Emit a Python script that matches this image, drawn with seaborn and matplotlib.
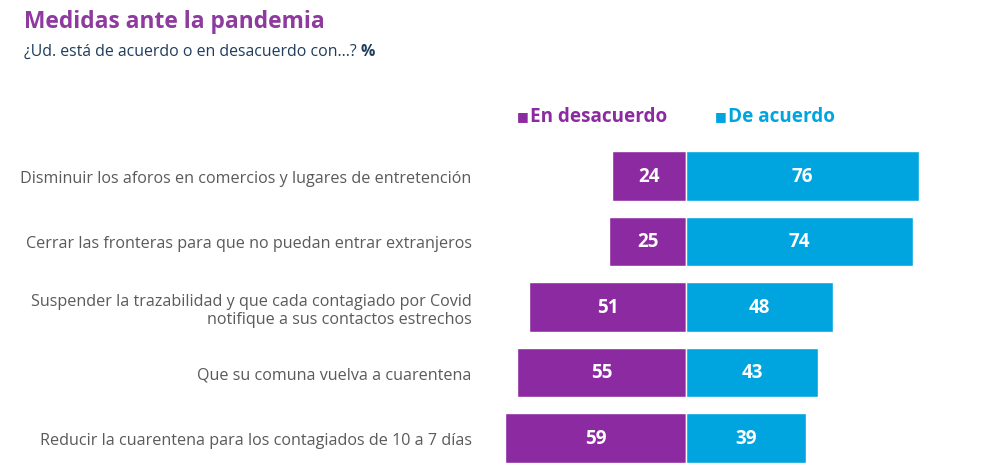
import matplotlib
matplotlib.use("Agg")
import matplotlib.pyplot as plt
import seaborn as sns
import pandas as pd

categories = [
    "Disminuir los aforos en comercios y lugares de entretención",
    "Cerrar las fronteras para que no puedan entrar extranjeros",
    "Suspender la trazabilidad y que cada contagiado por Covid\nnotifique a sus contactos estrechos",
    "Que su comuna vuelva a cuarentena",
    "Reducir la cuarentena para los contagiados de 10 a 7 días",
]
desacuerdo = [24, 25, 51, 55, 59]
acuerdo = [76, 74, 48, 43, 39]
series_names = ["En desacuerdo", "De acuerdo"]

PURPLE = "#8C2AA1"
BLUE = "#00A5E0"
TITLE_C = "#8E3A9E"
SUB_C = "#1E3D5C"
LABEL_C = "#5A5A5A"

sns.set_theme(style="white")
plt.rcParams["font.family"] = ["Open Sans", "DejaVu Sans"]

W, H = 983, 477
fig = plt.figure(figsize=(W / 100, H / 100), dpi=100)
ax_left_px, ax_right_px = 480, 983
center_px = 686
ppu = 3.07
ax_top_px, ax_bot_px = 144.25, 471.75
ax = fig.add_axes([ax_left_px / W, 1 - ax_bot_px / H,
                   (ax_right_px - ax_left_px) / W, (ax_bot_px - ax_top_px) / H])

df = pd.DataFrame({"cat": categories, "neg": [-v for v in desacuerdo], "pos": acuerdo})
sns.barplot(data=df, x="neg", y="cat", orient="h", color=PURPLE, width=0.75,
            saturation=1, ax=ax, edgecolor="white", linewidth=1)
sns.barplot(data=df, x="pos", y="cat", orient="h", color=BLUE, width=0.75,
            saturation=1, ax=ax, edgecolor="white", linewidth=1)

ax.set_xlim(-(center_px - ax_left_px) / ppu, (ax_right_px - center_px) / ppu)
ax.set_ylim(4.5, -0.5)
for s in ax.spines.values():
    s.set_visible(False)
ax.set_xticks([])
ax.set_xlabel("")
ax.set_ylabel("")
ax.tick_params(axis="y", length=0, pad=6)
for t in ax.get_yticklabels():
    t.set_fontsize(11.6)
    t.set_color(LABEL_C)
    t.set_multialignment("right")
    t.set_linespacing(1.15)

for i, (d, a) in enumerate(zip(desacuerdo, acuerdo)):
    ax.text(-d / 2, i, str(d), ha="center", va="center", color="white",
            fontsize=13.5, fontweight="bold")
    ax.text(a / 2, i, str(a), ha="center", va="center", color="white",
            fontsize=13.5, fontweight="bold")

fig.text(24 / W, 1 - 22 / H, "Medidas ante la pandemia", color=TITLE_C,
         fontsize=16.4, fontweight="bold", ha="left", va="center")
sub = fig.text(24 / W, 1 - 52 / H, "¿Ud. está de acuerdo o en desacuerdo con...? ", color=SUB_C,
               fontsize=11.4, ha="left", va="center")
fig.canvas.draw()
bb = sub.get_window_extent()
fig.text(bb.x1 / W, 1 - 52 / H, "%", color=SUB_C, fontsize=11.4, fontweight="bold",
         ha="left", va="center")

fig.text(517 / W, 1 - 117 / H, "■", color=PURPLE, fontsize=9, ha="left", va="center")
fig.text(530 / W, 1 - 117 / H, series_names[0], color=PURPLE, fontsize=13.6,
         fontweight="bold", ha="left", va="center")
fig.text(715 / W, 1 - 117 / H, "■", color=BLUE, fontsize=9, ha="left", va="center")
fig.text(728 / W, 1 - 117 / H, series_names[1], color=BLUE, fontsize=13.6,
         fontweight="bold", ha="left", va="center")

fig.savefig("out.png", dpi=100, facecolor="white")
